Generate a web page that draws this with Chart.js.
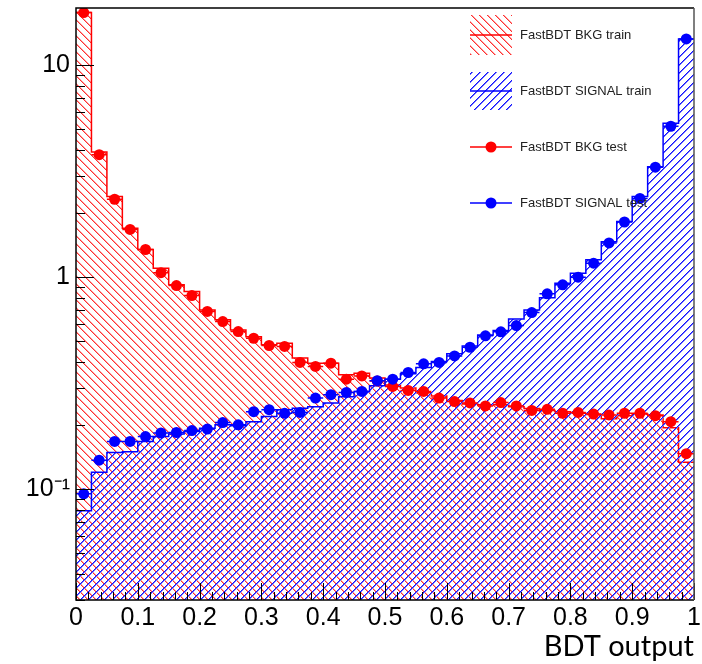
<!DOCTYPE html>
<html>
<head>
<meta charset="utf-8">
<script src="https://cdn.jsdelivr.net/npm/chart.js@4/dist/chart.umd.min.js"></script>
<style>
  html, body { margin: 0; padding: 0; background: #fff; }
  canvas { display: block; }
</style>
</head>
<body>
<canvas id="bdtChart" width="702" height="664"></canvas>
<script>
// Histogram binning (40 bins on [0, 1])
const nBins = 40;
const xMin = 0;
const xMax = 1;

// Tick labels
const xTickValues = [0, 0.1, 0.2, 0.3, 0.4, 0.5, 0.6, 0.7, 0.8, 0.9, 1];
const xTickLabels = ['0', '0.1', '0.2', '0.3', '0.4', '0.5', '0.6', '0.7', '0.8', '0.9', '1'];
const yTickValues = [0.1, 1, 10];
const yTickLabels = ['10\u207B\u00B9', '1', '10'];

// Background (BKG) train histogram
const bkgTrain = [17.7, 3.89, 2.40, 1.70, 1.35, 1.10, 0.92, 0.855, 0.70, 0.63,
  0.563, 0.524, 0.480, 0.488, 0.415, 0.393, 0.393, 0.346, 0.352, 0.334,
  0.310, 0.300, 0.285, 0.275, 0.262, 0.252, 0.250, 0.250, 0.245, 0.240,
  0.235, 0.232, 0.228, 0.225, 0.215, 0.222, 0.226, 0.224, 0.195, 0.134];

// Signal train histogram
const sigTrain = [0.079, 0.120, 0.149, 0.150, 0.168, 0.177, 0.182, 0.187, 0.194, 0.201,
  0.199, 0.208, 0.220, 0.237, 0.241, 0.245, 0.255, 0.273, 0.289, 0.307,
  0.330, 0.350, 0.375, 0.400, 0.435, 0.474, 0.534, 0.560, 0.634, 0.700,
  0.800, 0.937, 1.044, 1.207, 1.47, 1.83, 2.40, 3.32, 5.32, 13.3];

// Background test points
const bkgTest = [17.7, 3.78, 2.33, 1.68, 1.35, 1.05, 0.913, 0.819, 0.689, 0.617,
  0.554, 0.515, 0.476, 0.471, 0.396, 0.379, 0.393, 0.330, 0.342, 0.324,
  0.305, 0.292, 0.289, 0.269, 0.259, 0.255, 0.247, 0.256, 0.247, 0.235,
  0.238, 0.228, 0.230, 0.226, 0.224, 0.228, 0.228, 0.222, 0.208, 0.147];

// Signal test points
const sigTest = [0.095, 0.137, 0.168, 0.168, 0.177, 0.184, 0.185, 0.189, 0.192, 0.206,
  0.201, 0.232, 0.237, 0.228, 0.230, 0.269, 0.279, 0.286, 0.289, 0.325,
  0.330, 0.355, 0.390, 0.396, 0.425, 0.467, 0.529, 0.552, 0.591, 0.681,
  0.834, 0.920, 1.000, 1.164, 1.45, 1.82, 2.35, 3.30, 5.15, 13.3];

const legendEntries = ['FastBDT BKG train', 'FastBDT SIGNAL train', 'FastBDT BKG test', 'FastBDT SIGNAL test'];

const RED = '#ff0000';
const BLUE = '#0000ff';
const binWidth = (xMax - xMin) / nBins;

/**
 * Build a pixel hatch tile ('\\' or '/'), lines about 1.5px thick
 */
function makeHatch(core, edge, dir) {
  const s = 8;
  const c = document.createElement('canvas');
  c.width = s;
  c.height = s;
  const g = c.getContext('2d');
  for (let i = 0; i < s; i++) {
    const py = dir === '/' ? s - 1 - i : i;
    g.fillStyle = edge;
    g.fillRect((i + 1) % s, py, 1, 1);
    g.fillStyle = core;
    g.fillRect(i, py, 1, 1);
  }
  return g.createPattern(c, 'repeat');
}

const redHatch = makeHatch('#ff3030', '#ffa0a0', '\\');
const blueHatch = makeHatch('#1010ff', '#7070ff', '/');

// Step outline points: one at each bin's left edge plus the closing edge
function histPoints(values) {
  const pts = values.map((v, i) => ({ x: xMin + i * binWidth, y: v }));
  pts.push({ x: xMax, y: values[values.length - 1] });
  return pts;
}

function centerPoints(values) {
  return values.map((v, i) => ({ x: xMin + (i + 0.5) * binWidth, y: v }));
}

// Horizontal error bars spanning the bin width
function xErrPoints(values) {
  const pts = [];
  values.forEach((v, i) => {
    const lo = xMin + i * binWidth;
    pts.push({ x: lo, y: v }, { x: lo + binWidth, y: v }, { x: lo + binWidth, y: null });
  });
  return pts;
}

// Inward ticks, frame and legend drawn on top of the data
const rootStylePlugin = {
  id: 'rootStyle',
  afterDatasetsDraw(chart) {
    const { ctx, chartArea: a, scales: { x, y } } = chart;
    ctx.save();
    ctx.strokeStyle = '#000';
    ctx.lineWidth = 1;
    ctx.beginPath();
    // x ticks
    for (let k = 0; k <= 50; k++) {
      const v = xMin + k * 0.02;
      const px = Math.round(x.getPixelForValue(v)) + 0.5;
      const len = k % 5 === 0 ? 17 : 8;
      ctx.moveTo(px, a.bottom);
      ctx.lineTo(px, a.bottom - len);
    }
    // y ticks
    for (let e = -2; e <= 1; e++) {
      for (let m = 1; m <= 9; m++) {
        const v = m * Math.pow(10, e);
        if (v < y.min || v > y.max) continue;
        const py = Math.round(y.getPixelForValue(v)) + 0.5;
        const len = m === 1 ? 18 : 9;
        ctx.moveTo(a.left, py);
        ctx.lineTo(a.left + len, py);
      }
    }
    ctx.stroke();

    // frame
    ctx.lineWidth = 1.5;
    ctx.strokeStyle = '#000';
    ctx.beginPath();
    ctx.moveTo(a.right, a.top);
    ctx.lineTo(a.left, a.top);
    ctx.lineTo(a.left, a.bottom);
    ctx.lineTo(a.right, a.bottom);
    ctx.stroke();
    ctx.strokeStyle = '#555';
    ctx.beginPath();
    ctx.moveTo(a.right, a.top);
    ctx.lineTo(a.right, a.bottom);
    ctx.stroke();

    // legend
    const lx = 470, lw = 42, tx = 520;
    const rows = [35, 91, 147, 203];
    ctx.fillStyle = redHatch;
    ctx.fillRect(lx, rows[0] - 20, lw, 40);
    ctx.fillStyle = blueHatch;
    ctx.fillRect(lx, rows[1] - 19, lw, 38);
    ctx.lineWidth = 1.5;
    [RED, BLUE, RED, BLUE].forEach((col, i) => {
      ctx.strokeStyle = col;
      ctx.beginPath();
      ctx.moveTo(lx, rows[i]);
      ctx.lineTo(lx + lw, rows[i]);
      ctx.stroke();
      if (i >= 2) {
        ctx.fillStyle = col;
        ctx.beginPath();
        ctx.arc(lx + lw / 2, rows[i], 5.5, 0, Math.PI * 2);
        ctx.fill();
      }
    });
    ctx.fillStyle = '#222';
    ctx.font = '13px "Liberation Sans", Arial, sans-serif';
    ctx.textBaseline = 'middle';
    ctx.textAlign = 'left';
    legendEntries.forEach((t, i) => ctx.fillText(t, tx, rows[i]));
    ctx.restore();
  },
};

const tickFont = { family: '"Liberation Sans", Arial, sans-serif', size: 25 };

// Higher "order" is drawn first (underneath)
new Chart(document.getElementById('bdtChart'), {
  type: 'line',
  data: {
    datasets: [
      {
        label: legendEntries[0],
        order: 6,
        data: histPoints(bkgTrain),
        stepped: true,
        borderColor: RED,
        borderWidth: 1.5,
        backgroundColor: redHatch,
        fill: 'start',
        pointRadius: 0,
      },
      {
        label: legendEntries[1],
        order: 5,
        data: histPoints(sigTrain),
        stepped: true,
        borderColor: BLUE,
        borderWidth: 1.5,
        backgroundColor: blueHatch,
        fill: 'start',
        pointRadius: 0,
      },
      {
        order: 4,
        data: xErrPoints(bkgTest),
        borderColor: RED,
        borderWidth: 1.5,
        pointRadius: 0,
        spanGaps: false,
        fill: false,
      },
      {
        label: legendEntries[2],
        order: 3,
        data: centerPoints(bkgTest),
        showLine: false,
        pointRadius: 5.5,
        pointBorderWidth: 0,
        pointBorderColor: RED,
        pointBackgroundColor: RED,
      },
      {
        order: 2,
        data: xErrPoints(sigTest),
        borderColor: BLUE,
        borderWidth: 1.5,
        pointRadius: 0,
        spanGaps: false,
        fill: false,
      },
      {
        label: legendEntries[3],
        order: 1,
        data: centerPoints(sigTest),
        showLine: false,
        pointRadius: 5.5,
        pointBorderWidth: 0,
        pointBorderColor: BLUE,
        pointBackgroundColor: BLUE,
      },
    ],
  },
  options: {
    responsive: false,
    animation: false,
    events: [],
    layout: { padding: { top: 8, right: 8, left: 0, bottom: 0 } },
    plugins: {
      legend: { display: false },
      tooltip: { enabled: false },
    },
    scales: {
      x: {
        type: 'linear',
        min: xMin,
        max: xMax,
        grid: { display: false, drawTicks: false },
        border: { display: false },
        afterBuildTicks: (s) => { s.ticks = xTickValues.map((v) => ({ value: v })); },
        afterFit: (s) => { s.height = 64; s.paddingLeft = 0; s.paddingRight = 0; },
        ticks: {
          color: '#000',
          font: tickFont,
          padding: 3,
          maxRotation: 0,
          autoSkip: false,
          callback: (v, i) => xTickLabels[i],
        },
        title: {
          display: true,
          text: 'BDT output',
          align: 'end',
          color: '#000',
          font: { family: 'Lato, "Open Sans", sans-serif', size: 29 },
          padding: { top: 0, bottom: 0 },
        },
      },
      y: {
        type: 'logarithmic',
        min: 0.03,
        max: 18.6,
        grid: { display: false, drawTicks: false },
        border: { display: false },
        afterBuildTicks: (s) => { s.ticks = yTickValues.map((v) => ({ value: v })); },
        afterFit: (s) => { s.width = 76; s.paddingTop = 0; s.paddingBottom = 0; },
        ticks: {
          color: '#000',
          font: tickFont,
          padding: 6,
          autoSkip: false,
          callback: (v, i) => yTickLabels[i],
        },
      },
    },
  },
  plugins: [rootStylePlugin],
});
</script>
</body>
</html>
